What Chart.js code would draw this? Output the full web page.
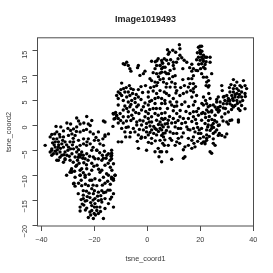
<!DOCTYPE html>
<html>
<head>
<meta charset="utf-8">
<style>body{margin:0;background:#fff}canvas{display:block}</style>
<script src="https://cdn.jsdelivr.net/npm/chart.js@4"></script>
</head>
<body>
<canvas id="tsne" width="273" height="273"></canvas>
<script>
var chartTitle = "Image1019493";
var xLabel = "tsne_coord1";
var yLabel = "tsne_coord2";
var xTicks = [-40, -20, 0, 20, 40];
var yTicks = [-20, -15, -10, -5, 0, 5, 10, 15];

// points, [tsne_coord1, tsne_coord2], grouped by area
var tailPoints = [[-28.8,-9],[-28.6,-9.4],[-27.7,-11.6],[-27.3,-12.2],[-26.7,-8],[-25.4,-10],[-24.8,-12.1],[-24.2,-13.1],[-26.1,-13.7],[-25,-14.9],[-24.2,-14.7],[-22.9,-15.1],[-23.5,-15.2],[-25.4,-16.4],[-25.4,-17.2],[-22.9,-16.6],[-22.3,-18.5],[-20.4,-18.7],[-20.1,-17.7],[-19.1,-17.1],[-21,-16.1],[-19.8,-15.7],[-18.5,-15.1],[-19.8,-14.7],[-17.6,-14.1],[-18.5,-13.4],[-17.2,-13.1],[-20.4,-13.7],[-21,-12.7],[-22.3,-12.1],[-19.1,-12.1],[-23.5,-10],[-21.7,-11],[-19.8,-10.7],[-17.2,-9],[-15.4,-9.7],[-13.5,-10.4],[-12.8,-10.7],[-12.2,-10],[-14.1,-13],[-12.8,-13.7],[-13.5,-14.4],[-14.7,-15.7],[-12.8,-16.4],[-16,-16.7],[-17.2,-15.4],[-16.6,-18.7],[-18.5,-17.7],[-16,-14.7],[-21.7,-14.5],[-22.7,-14.3],[-24.2,-14],[-21,-17.1],[-17.9,-16.4],[-19.1,-16.4],[-21.7,-17.4],[-15,-11.2],[-14,-11.8],[-16,-11.6],[-17,-12],[-18,-11],[-20.5,-12],[-23,-13.2],[-22,-13.6],[-23.4,-11.8],[-25,-11],[-26,-11.6],[-24.6,-15.8],[-24,-16],[-23.4,-17],[-20,-16.4],[-20.5,-15],[-21.4,-15.5],[-18.8,-14.2],[-17.4,-14.9],[-15.8,-13.4],[-14.9,-13],[-14,-14.8],[-19.6,-18],[-21.4,-18],[-17.7,-17.3],[-20,-13.1],[-16.5,-13.5]];
var midLeftPoints = [[-36.1,-5],[-35.5,-5.7],[-34.2,-7],[-31.7,-7.4],[-31.1,-6.7],[-28,-7.4],[-26.1,-6.4],[-24.2,-6],[-24.8,-8.7],[-25.4,-9],[-22.9,-8.7],[-19.8,-6.7],[-19.1,-5],[-14.7,-5.7],[-13.5,-6.7],[-12.8,-7.7],[-16,-8],[-30.5,-10],[-29.2,-9.4],[-28.6,-8.7],[-27.3,-10.4],[-27.9,-11.7],[-25.4,-10],[-23.5,-10.4],[-21,-11],[-17.9,-9.4],[-16.6,-10.4],[-14.7,-10],[-13.5,-10.7],[-12.2,-10],[-12.8,-11],[-24.4,-6.6],[-25.8,-5.9],[-26.4,-7],[-24,-7.5],[-23,-7.9],[-25.8,-7.6],[-27,-8.2],[-27.5,-9.2],[-24.2,-9.5],[-22,-9.8],[-21,-9],[-20.2,-8.2],[-19,-8],[-18.4,-8.8],[-17,-6],[-16.2,-5.2],[-15.6,-6.6],[-14.8,-7.6],[-14,-8.4],[-13.4,-9],[-21.8,-6.2],[-22.4,-7],[-21,-7.6],[-16.6,-6.6],[-18,-5.5]];
var topLeftPoints = [[-38.6,-4],[-34.5,-0.2],[-32.7,-0.3],[-30.4,0.5],[-34.2,-1.3],[-31.7,-1.1],[-26.7,1.5],[-26,0.9],[-25.4,0.3],[-22.9,1.8],[-21,1],[-22.3,0.3],[-21.6,0],[-16.6,0.9],[-12.8,2.3],[-12.6,1.3],[-14.7,-1.7],[-16,-2.2],[-16.8,-2.7],[-36.1,-1.8],[-36.7,-2.3],[-35.5,-2.7],[-34.2,-2.7],[-33,-2.3],[-31.7,-2.3],[-34.8,-3.3],[-33.6,-3.3],[-32.3,-3.7],[-31.1,-3.3],[-29.8,-2],[-28.5,-1.7],[-27.9,-0.7],[-26.7,-0.3],[-25.4,-1.3],[-27.3,-2],[-24.1,-1],[-21.6,-1.3],[-20.4,-1.7],[-18.5,-1.3],[-22.3,-2.7],[-24.1,-2.7],[-26,-3],[-27.9,-3.3],[-29.2,-3.3],[-29.8,-4.35],[-31.7,-4.35],[-33.6,-4.35],[-34.8,-4.35],[-36.1,-4.7],[-36.7,-5.35],[-36.1,-6],[-33,-5.35],[-31.1,-5.35],[-27.9,-4.7],[-26.7,-4.35],[-25.4,-4],[-24.1,-3.7],[-21.6,-3.7],[-21,-5],[-18.5,-3],[-17.9,-3.7],[-16.6,-4],[-19.1,-5],[-34.2,-5.7],[-32.3,-6],[-30.4,-6],[-28.5,-5.7],[-26.7,-5.35],[-24.8,-5.35],[-22.9,-5.7],[-27.3,-6.35],[-25.4,-6.35],[-23.5,-6.7],[-20.4,-6.35],[-18.5,-6.7],[-17.2,-7],[-15.3,-6],[-13.5,-5],[-13.5,-6],[-9.7,-3.3],[-29.2,-7],[-31.1,-6.9],[-33.6,-7],[-33.5,-3.9],[-32.8,-4.6],[-32,-3],[-30.5,-3.9],[-30,-5],[-29,-4.7],[-28.3,-3.9],[-33.2,-1.8],[-35.2,-3.9],[-35.8,-3.5],[-34,-4.9],[-31.5,-5.9],[-29.5,-6.2],[-28,-2.6],[-26.8,-1.2],[-26,-4.9],[-25.1,-5.9],[-23,-4],[-22.8,-3.3],[-20,-3],[-19.4,-2.4],[-20.5,-4.4],[-33,-6.4],[-34.8,-5.2],[-35,-1.7],[-30,-0.6],[-29,-1],[-29,0.3],[-24,0.5],[-23,-0.8],[-12,2.6],[-11.6,1.9],[-13,-0.2]];
var upperMidPoints = [[-7.8,12.7],[-8.5,12.25],[-9.1,12.4],[-7.2,12.05],[-6.6,11.4],[-6.2,10.9],[-3.4,12.05],[-3.7,11.6],[-0.9,10.9],[-1.5,10.4],[-2.8,10.05],[1.6,12.9],[2.9,11.4],[4.1,13.4],[5.4,13.05],[3.5,12.05],[4.8,12.05],[6,11.7],[4.8,10.5],[3.5,10.4],[5.4,10.7],[-9.7,8.5],[-6.2,7.4],[-5.3,7.2],[-3.4,7.2],[-0.7,8],[1,9.4],[1.6,9],[2.9,8.7],[3.9,8.6],[3.5,8],[4.8,9.2],[0.35,6.7],[2.2,6.9],[3.5,6.4],[4.8,7],[6.4,6.7],[-11,6.7],[-10.3,6.4],[-9.7,6],[-8.5,6.7],[-7.2,6.7],[-7.8,5.7],[-6.6,6],[-5.9,5],[-4.7,5.4],[-3.4,5.7],[-11,5.4],[-9.1,5],[-7.2,4.7],[0.35,5.7],[1.6,5],[2.9,5.4],[4.1,5.6],[5.4,4.4],[-0.9,4.5],[6.6,5],[-8,7.6],[-6.8,8],[-5.6,6.4],[-4.2,6.2],[-9,7.4],[-10,7.2],[-11.6,6],[-6.2,4.2],[-4.6,4.6],[-2.4,5.2],[-1.8,6.6],[-2.4,7.8],[0.9,4.8],[1.2,7.6],[2.5,7.8],[4.2,9.8],[6,9.4],[3,12.8],[2.2,10.6],[5.6,12.6],[6.4,13.4],[3.6,13],[7.2,6.4],[8.2,6]];
var upperRightPoints = [[12.1,16.2],[12.3,15.4],[7.6,15.2],[9.6,15.1],[10.7,14.7],[8.3,14.7],[7.9,14.3],[12.3,14.1],[13,13.6],[13.9,13.1],[14.9,12.7],[16.8,12.3],[13.4,11.4],[7.3,13.1],[5.8,12.5],[4.8,12.05],[6.7,11.7],[5.4,11.4],[9.8,12.7],[9.8,12.05],[10.1,11.4],[8.6,11.05],[7.3,10.4],[6.7,10.7],[10.5,10],[8.3,9.4],[6.1,8.7],[7.3,8.4],[9.2,8.7],[10.5,8.4],[10.5,7.7],[8.6,7.7],[7.1,7.7],[11.1,7],[10.8,6.5],[17.4,11.4],[16.8,10.9],[18.4,11.05],[17.4,10],[16.8,9.4],[15.5,9.4],[16.1,8.4],[17.4,8.4],[15.5,7.7],[17.4,7.4],[20.5,10.4],[21.2,9.7],[22.4,8.7],[22.2,8],[23,7.7],[13.6,6.4],[14.9,6.7],[17.4,6.7],[18.6,6],[19.9,15.9],[19.3,15.7],[20.5,15.9],[19.9,15.1],[20.1,14.4],[19.3,13.7],[20.5,13.7],[21.2,14.1],[21.8,13.7],[23.7,13.7],[18.6,13.2],[19.9,13.1],[21.2,12.9],[20.5,12.4],[21.8,12.25],[23.7,12.7],[21.2,11.7],[21.8,11.4],[22.4,13.7],[26.2,5.2],[23.7,5.4],[21.2,5.7],[16.8,5.7],[14.2,4.7],[11.1,4.7],[9.8,5.4],[8.6,4.7],[5.4,5.4],[6.7,4.4],[12.3,6],[20,14.8],[18.9,14.6],[20.6,14.9],[19.4,12.3],[20.1,11.4],[22.2,12.8],[19,11],[21,13.3],[12.6,7.6],[14,8],[13.4,9.2],[9.6,9.8],[8,10.4],[8.8,13.2],[11,12.7],[11.6,13.4],[16,11.6],[16.4,7],[18.2,7.8],[8,12.4],[23.2,6.4],[20.6,4.4],[22,5],[18,4.8],[15.6,3.8]];
var centerPoints = [[-11,4.1],[-8.5,3.9],[-7.8,3.4],[-6.6,3.75],[-3.4,4.1],[-1.5,3.75],[0.35,4.1],[2.9,4.4],[-12.9,2.4],[-11.6,2.05],[-10.3,2.4],[-11,1.4],[-9.1,1.75],[-11,0.5],[-9.1,0.5],[-7.2,1.75],[-5.9,2.05],[-5.3,1.4],[-4,0.7],[-2.8,1.05],[-0.9,1.75],[0.35,2.4],[0.35,1.4],[1.6,1.75],[2.9,2.4],[4.1,2.05],[5.4,2.4],[-7.2,-0.3],[-5.3,-0.6],[-4,0.1],[-2.2,0.1],[-0.3,0.4],[1.6,0.7],[3.5,1.05],[4.8,0.7],[6,1.2],[-8.5,-1.3],[-8.2,-2.3],[-6.6,-2.3],[-3.4,-1.9],[-2.2,-2.3],[-0.3,-1.3],[0.35,-1.9],[1.6,-0.9],[2.9,-0.6],[4.8,-0.6],[6,-0.3],[-2.4,-2.6],[1.6,-2.6],[3.5,-1.9],[6,-1.6],[-16,0.7],[-16,-1.9],[-11,-3.3],[-3.4,-4.6],[-0.3,-5],[1.6,-3.6],[4.8,-3],[4.1,-4.6],[4.8,-5.3],[2.9,-5.3],[4.4,-6.3],[-13.5,-5.6],[-13.7,-6.2],[-14.1,-7],[6.4,-4],[-4,3.75],[-5.3,3.1],[-2.2,3.1],[2.2,3.4],[4.8,3.4],[-9.1,3.1],[-7.2,2.75],[-4.7,-1.3],[-1.5,-0.9],[1,-0.1],[6.6,-2.9],[-9.7,-0.6],[-12.2,1.4],[3.4,3.4],[-0.6,2.8],[0.9,3.2],[-3.2,2.4],[-4.4,2.6],[-1.6,0.9],[-0.4,-0.4],[0.7,0.7],[2.4,-0.2],[3.4,-0.8],[4.2,0.2],[-3,-0.8],[-6.2,1],[-7.9,0.9],[-10.1,1],[-8,-0.4],[-6.4,-1.4],[-3.8,-3.2],[-0.8,-2.4],[1,-1.4],[2.4,-1.6],[4.2,-1.2],[5.4,-2],[0.4,-3.4],[3,-3.1]];
var lowerRightPoints = [[9.2,4.1],[11.1,3.9],[13,4.2],[17.4,4.1],[19.3,3.4],[21.2,4.1],[23,3.75],[24.9,4.1],[26.8,3.6],[6.7,2.55],[9.8,2.95],[11.1,2.4],[12.3,1.75],[13.6,1.4],[16.1,2.4],[15.5,1.4],[17.4,2.75],[17.4,1.75],[19.3,2.05],[20.5,2.4],[22.4,3.1],[24.3,2.95],[25.6,2.05],[5.4,1.4],[6.7,1.4],[7.9,1.05],[9.2,0.5],[6.7,0.3],[5.4,0.1],[7.9,-0.3],[10.5,-0.3],[11.7,-0.6],[13,0.4],[14.9,-0.3],[16.1,-0.9],[17.4,-0.6],[18.6,0.4],[20.5,1.05],[21.8,0.4],[23,0.1],[24.9,0.4],[26.2,0.7],[5.4,-0.9],[6.7,-1.5],[8.6,-1.3],[9.8,-1.6],[11.1,-1.6],[13.6,-1.5],[18,-1.3],[19.3,-1.6],[20.5,-0.6],[22.4,-0.9],[24.3,-0.6],[26.2,-0.9],[27.2,0.1],[5.8,-3.6],[7.9,-4],[9.2,-3],[11.1,-3.3],[11.7,-2.6],[13,-2.3],[15.5,-2.6],[16.8,-3],[17.4,-2.3],[21.2,-2.3],[22.4,-1.9],[24.9,-1.6],[10.5,-4],[14.2,-4.3],[15.5,-4],[16.8,-4.6],[18,-4.3],[20.5,-3.6],[21.8,-3.3],[24.9,-3.6],[25.6,-4],[23.7,-5.3],[24.3,-5.6],[5.4,-5.3],[7.3,-5.3],[9.2,-6.8],[5.4,-7.3],[13.6,-4.9],[13.6,-6.6],[14.2,-6.3],[21.2,-3.3],[27.2,-1.6],[19.9,-2.6],[6.1,-2.3],[8.6,-2.6],[7.2,-1],[7.6,0.4],[8.4,1.8],[9.8,1.4],[10.6,0.6],[11.6,1],[12.6,-0.6],[14.4,0.6],[15.4,-0.8],[16.8,0.8],[18.2,1.2],[19,-0.4],[21,2.6],[22,1.6],[23.4,1.8],[24.4,1.2],[19.6,-0.9],[18.6,2.8],[14.6,2.8],[12.4,3],[10.2,3.8],[7.6,3.4],[25.4,1],[25,-0.4],[22.4,-2.6],[23.4,-2.2],[20.2,-1.6],[19,-3.2],[17.6,-3.6],[12.2,-3.6]];
var farRightPoints = [[32.5,9.2],[33.8,8.7],[36.3,9],[35,8],[32.5,7.4],[33.8,7.4],[35.6,7.7],[36.9,8],[37.5,7.4],[28.1,8],[28.3,7],[32.5,6.7],[31.2,6.7],[33.8,6.4],[35.6,6.7],[36.9,6.4],[30,6],[31.9,6],[33.1,5.7],[34.4,5.7],[35.6,5.7],[30.6,5.4],[28.7,5.7],[26.8,5.7],[29.3,5],[31.2,5],[32.5,5],[33.8,5],[35,4.7],[27.5,4.7],[28.7,4.35],[30,4.35],[26.2,4.7],[31.2,4.35],[32.5,3.7],[34.4,3.35],[36.9,3.35],[35,3],[33.1,4],[27.5,3.8],[28.7,3.5],[30.6,2.7],[29.3,2.35],[28.1,1.7],[26.8,0],[30,0.7],[31.2,1],[31.9,1.1],[30.6,0.3],[34.4,1.1],[34.4,0.7],[26.8,-2],[28.1,-2],[25.6,-1.3],[30,-1.7],[29.3,-2.3],[24.3,10.4],[22.4,9.7],[23.1,9],[23.3,8],[23.7,4],[25.6,3.7],[22.4,4.35],[26.8,2.7],[24.3,2.7],[23.1,2.7],[21.8,2.35],[23.1,1],[24.3,0],[22.8,-0.3],[23.7,-1],[24.9,-2.7],[22.4,-3],[21.8,-3.7],[31,7.6],[31.6,8.2],[34.5,7],[33.2,6.2],[32.2,5.4],[34.8,6.2],[34,4.4],[30.4,4.9],[29.5,3.4],[31.8,3.2],[27.2,3],[29,5.8],[36,5],[33,8],[37,5.8],[35.6,4],[28.6,0.9],[32,4],[26.2,3.2]];

var allPoints = tailPoints.concat(midLeftPoints, topLeftPoints, upperMidPoints, upperRightPoints, centerPoints, lowerRightPoints, farRightPoints);
var axisColor = "#4d4d4d";
var textColor = "#3a3a3a";
var fontFamily = "'Liberation Sans', Arial, sans-serif";

function minusSign(v) {
	return String(v).replace("-", "\u2212");
}

var boxPlugin = {
	id: "box",
	afterDraw: function(chart) {
		var a = chart.chartArea;
		var ctx = chart.ctx;
		ctx.save();
		ctx.strokeStyle = axisColor;
		ctx.lineWidth = 1;
		ctx.strokeRect(a.left, a.top, a.right - a.left, a.bottom - a.top);
		ctx.restore();
	}
};

new Chart(document.getElementById("tsne").getContext("2d"), {
	type: "scatter",
	data: {
		datasets: [{
			data: allPoints.map(function(p) { return {x: p[0], y: p[1]}; }),
			backgroundColor: "#000",
			borderWidth: 0,
			pointRadius: 1.7,
			pointHoverRadius: 1.7
		}]
	},
	plugins: [boxPlugin],
	options: {
		responsive: false,
		animation: false,
		layout: {padding: {left: 0, right: 19.5, top: 0, bottom: 0}},
		plugins: {
			legend: {display: false},
			tooltip: {enabled: false},
			title: {
				display: true,
				text: chartTitle,
				fullSize: false,
				color: "#222",
				font: {family: fontFamily, size: 9, weight: "bold"},
				padding: {top: 14, bottom: 13}
			}
		},
		scales: {
			x: {
				type: "linear",
				min: -41.5,
				max: 40.1,
				afterBuildTicks: function(s) { s.ticks = xTicks.map(function(v) { return {value: v}; }); },
				afterFit: function(s) { s.height = 47; },
				grid: {drawOnChartArea: false, tickLength: 5, tickColor: axisColor, color: axisColor},
				border: {display: false},
				ticks: {color: textColor, padding: 5, maxRotation: 0, font: {family: fontFamily, size: 7.3}, callback: minusSign},
				title: {display: true, text: xLabel, color: textColor, font: {family: fontFamily, size: 7.3}, padding: {top: 8, bottom: 10}}
			},
			y: {
				type: "linear",
				min: -20.2,
				max: 17.6,
				afterBuildTicks: function(s) { s.ticks = yTicks.map(function(v) { return {value: v}; }); },
				afterFit: function(s) { s.width = 37.5; },
				grid: {drawOnChartArea: false, tickLength: 5, tickColor: axisColor, color: axisColor},
				border: {display: false},
				ticks: {color: textColor, padding: 8, minRotation: 90, maxRotation: 90, font: {family: fontFamily, size: 7.3}, callback: minusSign},
				title: {display: true, text: yLabel, color: textColor, font: {family: fontFamily, size: 7.3}, padding: {top: 5, bottom: 5}}
			}
		}
	}
});
</script>
</body>
</html>
